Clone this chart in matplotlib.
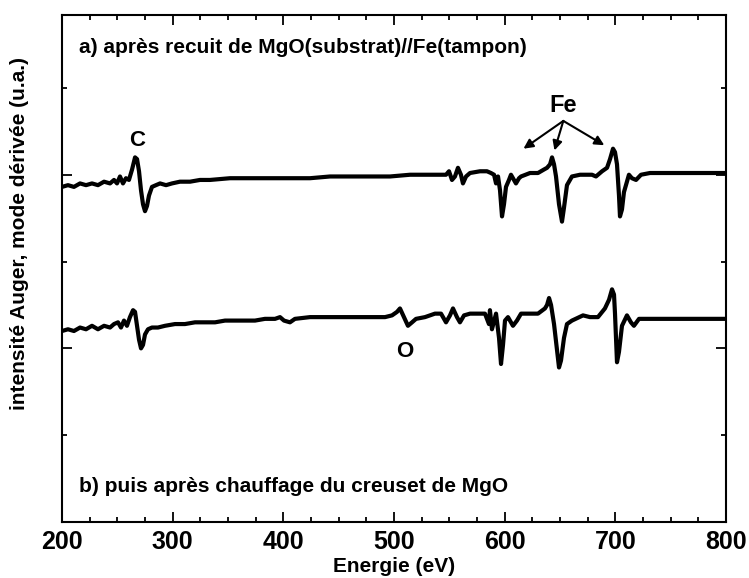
"""
Spectres Auger en mode dérivé : surface MgO(substrat)//Fe(tampon) après recuit,
puis après chauffage du creuset de MgO.
"""
import matplotlib
matplotlib.use("Agg")
import matplotlib.pyplot as plt
from matplotlib.ticker import MultipleLocator, NullFormatter

OUTPUT = "out.png"

# a) après recuit : énergie (eV) et intensité dérivée (u.a.)
ENERGY_A = [
    200.0, 205.4, 210.8, 216.3, 221.7, 227.1, 232.5, 238.0, 243.4, 247.0,
    249.7, 252.4, 255.1, 257.8, 260.5, 263.3, 266.0, 267.8, 269.6, 271.4,
    273.2, 275.0, 276.8, 278.6, 281.3, 284.9, 288.6, 294.0, 299.4, 306.6,
    315.7, 324.7, 333.7, 351.8, 369.9, 388.0, 406.0, 424.1, 442.2, 469.3,
    496.4, 514.5, 532.5, 541.6, 547.0, 549.7, 552.4, 555.1, 557.8, 560.5,
    562.3, 565.1, 568.7, 577.7, 584.0, 587.6, 590.4, 592.2, 594.0, 595.8,
    597.6, 599.4, 601.2, 603.9, 605.7, 608.4, 610.2, 613.0, 614.8, 622.9,
    630.1, 635.5, 638.3, 641.0, 642.8, 644.6, 646.4, 649.1, 651.8, 653.6,
    656.3, 659.0, 660.8, 668.1, 673.5, 678.9, 682.5, 688.0, 692.5, 695.2,
    697.9, 699.7, 701.5, 703.3, 704.2, 706.0, 707.8, 709.6, 712.3, 715.0,
    718.7, 723.2, 731.3, 740.4, 753.9, 767.5, 781.0, 800.0,
]
SIGNAL_A = [
    1.93, 1.94, 1.93, 1.95, 1.94, 1.95, 1.94, 1.96, 1.95, 1.97,
    1.95, 1.99, 1.95, 1.98, 1.97, 2.03, 2.10, 2.09, 2.02, 1.91,
    1.83, 1.79, 1.82, 1.88, 1.93, 1.94, 1.95, 1.94, 1.95, 1.96,
    1.96, 1.97, 1.97, 1.98, 1.98, 1.98, 1.98, 1.98, 1.99, 1.99,
    1.99, 2.00, 2.00, 2.00, 2.00, 2.02, 1.97, 1.99, 2.04, 2.00,
    1.95, 1.99, 2.01, 2.02, 2.02, 2.01, 2.00, 1.95, 1.99, 1.91,
    1.76, 1.83, 1.93, 1.97, 2.00, 1.97, 1.95, 1.98, 1.99, 2.01,
    2.01, 2.03, 2.04, 2.06, 2.10, 2.06, 1.99, 1.83, 1.73, 1.81,
    1.94, 1.97, 1.99, 2.00, 2.00, 2.00, 1.99, 2.02, 2.04, 2.09,
    2.15, 2.13, 2.06, 1.88, 1.76, 1.80, 1.90, 1.94, 2.00, 1.98,
    1.97, 2.00, 2.01, 2.01, 2.01, 2.01, 2.01, 2.01,
]

# b) après chauffage du creuset
ENERGY_B = [
    200.0, 205.4, 210.8, 216.3, 221.7, 227.1, 232.5, 238.0, 243.4, 247.0,
    250.6, 253.3, 256.0, 258.7, 261.4, 264.2, 266.0, 267.8, 269.6, 271.4,
    273.2, 275.0, 277.7, 281.3, 286.7, 293.1, 302.1, 311.1, 320.2, 329.2,
    338.3, 347.3, 356.3, 365.4, 374.4, 383.4, 392.5, 397.0, 400.6, 406.0,
    410.5, 424.1, 442.2, 460.2, 478.3, 491.9, 498.2, 502.7, 505.4, 509.0,
    512.6, 516.3, 519.9, 528.0, 537.0, 542.5, 547.0, 550.6, 553.3, 556.9,
    559.6, 563.3, 568.7, 577.7, 582.2, 585.8, 586.7, 588.5, 592.2, 594.9,
    596.7, 598.5, 600.3, 603.0, 607.5, 611.1, 614.8, 622.9, 630.1, 636.4,
    638.3, 640.1, 641.9, 644.6, 647.3, 649.1, 650.9, 653.6, 656.3, 660.8,
    670.8, 677.1, 684.3, 690.6, 694.3, 697.0, 698.8, 699.7, 701.5, 703.3,
    706.0, 710.5, 714.1, 716.8, 721.4, 731.3, 749.4, 767.5, 785.5, 800.0,
]
SIGNAL_B = [
    1.10, 1.11, 1.10, 1.12, 1.11, 1.13, 1.11, 1.13, 1.12, 1.14,
    1.15, 1.12, 1.16, 1.13, 1.18, 1.22, 1.21, 1.13, 1.05, 1.00,
    1.02, 1.08, 1.11, 1.12, 1.12, 1.13, 1.14, 1.14, 1.15, 1.15,
    1.15, 1.16, 1.16, 1.16, 1.16, 1.17, 1.17, 1.18, 1.16, 1.15,
    1.17, 1.18, 1.18, 1.18, 1.18, 1.18, 1.19, 1.21, 1.23, 1.18,
    1.13, 1.15, 1.17, 1.18, 1.20, 1.20, 1.15, 1.19, 1.23, 1.18,
    1.15, 1.19, 1.20, 1.20, 1.20, 1.14, 1.22, 1.11, 1.20, 1.06,
    0.91, 1.02, 1.16, 1.18, 1.13, 1.16, 1.20, 1.20, 1.20, 1.23,
    1.25, 1.29, 1.25, 1.14, 0.99, 0.89, 0.93, 1.06, 1.14, 1.16,
    1.19, 1.18, 1.18, 1.23, 1.28, 1.34, 1.31, 1.20, 0.92, 0.98,
    1.13, 1.19, 1.15, 1.13, 1.17, 1.17, 1.17, 1.17, 1.17, 1.17,
]

LABEL_A = "a) après recuit de MgO(substrat)//Fe(tampon)"
LABEL_B = "b) puis après chauffage du creuset de MgO"
XTICKS = [200, 300, 400, 500, 600, 700, 800]

# position des étiquettes d'éléments (eV, u.a.)
PEAK_C = (268, 2.20)
PEAK_O = (510, 0.98)
PEAK_FE = (653, 2.40)
FE_ARROW_TIPS = [(617, 2.15), (645, 2.14), (690, 2.17)]


plt.rcParams["font.family"] = ["Liberation Sans", "DejaVu Sans"]
plt.rcParams["font.weight"] = "bold"

fig = plt.figure(figsize=(7.49, 5.78), dpi=100)
ax = fig.add_axes([62 / 749, 1 - 522 / 578, 664 / 749, 507 / 578])

ax.plot(ENERGY_A, SIGNAL_A, color="black", lw=3.0, solid_joinstyle="round")
ax.plot(ENERGY_B, SIGNAL_B, color="black", lw=3.0, solid_joinstyle="round")

ax.set_xlim(200, 800)
ax.set_ylim(0, 2.92)
ax.set_xticks(XTICKS)
ax.xaxis.set_minor_locator(MultipleLocator(25))
ax.yaxis.set_major_locator(MultipleLocator(1))
ax.yaxis.set_minor_locator(MultipleLocator(0.5))
ax.yaxis.set_major_formatter(NullFormatter())

ax.tick_params(which="both", direction="in", top=True, right=True, width=1.3)
ax.tick_params(which="major", length=7)
ax.tick_params(which="minor", length=3.5)
ax.tick_params(axis="x", which="major", labelsize=18, pad=6)
for lab in ax.get_xticklabels():
    lab.set_fontweight("bold")
for side in ax.spines.values():
    side.set_linewidth(1.5)

ax.set_xlabel("Energie (eV)", fontsize=15, fontweight="bold", labelpad=2)
ax.set_ylabel("intensité Auger, mode dérivée (u.a.)", fontsize=15,
              fontweight="bold", labelpad=20, y=0.57)

ax.text(0.025, 0.935, LABEL_A, transform=ax.transAxes, fontsize=15,
        fontweight="bold", va="center", ha="left")
ax.text(0.025, 0.07, LABEL_B, transform=ax.transAxes, fontsize=15,
        fontweight="bold", va="center", ha="left")

ax.text(*PEAK_C, "C", fontsize=16, fontweight="bold", ha="center", va="center")
ax.text(*PEAK_O, "O", fontsize=16, fontweight="bold", ha="center", va="center")
ax.text(*PEAK_FE, "Fe", fontsize=17, fontweight="bold", ha="center", va="center")
for tip in FE_ARROW_TIPS:
    ax.annotate("", xy=tip, xytext=(PEAK_FE[0], PEAK_FE[1] - 0.09),
                arrowprops=dict(arrowstyle="-|>", color="black", lw=1.5,
                                mutation_scale=14, shrinkA=0, shrinkB=0))

fig.savefig(OUTPUT, dpi=100)
